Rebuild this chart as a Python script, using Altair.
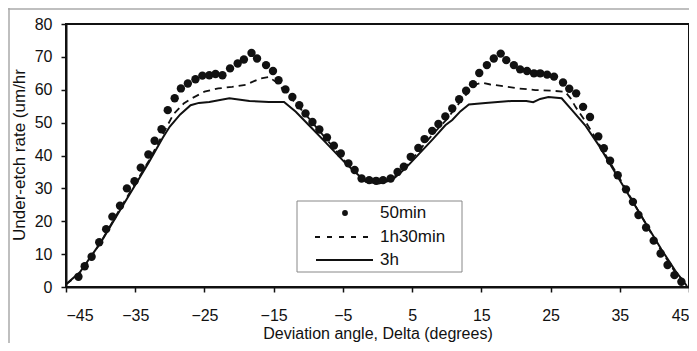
import altair as alt
import pandas as pd

# ---- data ----
x_50min = [-43.2, -42.3, -41.3, -40.2, -39.2, -38.3, -37.2, -36.2, -35.1, -34.2, -33.1, -32.2,
           -31.2, -30.3, -29.3, -28.4, -27.4, -26.3, -25.3, -24.3, -23.4, -22.4, -21.3, -20.2,
           -19.3, -18.2, -17.4, -16.1, -15.1, -14.3, -13.3, -12.3, -11.3, -10.4, -9.4, -8.4,
           -7.3, -6.3, -5.3, -4.2, -3.3, -2.3, -1.2, -0.2, 0.8, 1.9, 2.9, 3.8, 4.8, 5.9, 6.8,
           7.9, 8.8, 9.8, 10.8, 11.8, 12.8, 13.8, 14.7, 15.8, 16.8, 17.8, 18.6, 19.7, 20.6,
           21.6, 22.6, 23.5, 24.5, 25.5, 26.8, 27.7, 28.7, 29.7, 30.7, 31.9, 32.7, 33.6, 34.7,
           35.9, 36.9, 37.7, 38.8, 39.9, 40.9, 41.9, 42.9, 43.9]
y_50min = [3.1, 6.3, 9.2, 13.6, 17.6, 21.4, 24.7, 30.0, 32.2, 36.3, 40.3, 44.5,
           48.0, 53.8, 57.4, 60.4, 61.9, 63.2, 64.3, 64.4, 64.8, 64.4, 66.5, 68.0,
           69.2, 71.2, 69.5, 67.5, 65.7, 62.9, 60.1, 57.8, 55.3, 52.8, 50.2, 47.9,
           45.5, 43.0, 40.6, 37.6, 35.6, 33.0, 32.5, 32.3, 32.5, 33.0, 35.0, 36.6, 39.6, 42.3, 45.0,
           47.5, 49.6, 51.9, 54.3, 57.1, 59.7, 61.7, 65.1, 67.5, 69.5, 71.0, 69.0, 67.5, 66.2,
           65.7, 65.0, 65.0, 64.6, 64.0, 62.2, 60.3, 58.9, 54.8, 51.7, 45.8, 42.2, 38.4, 34.0,
           29.7, 25.9, 21.9, 18.1, 14.1, 10.2, 6.7, 3.6, 1.6]

x_1h30 = [-45, -43, -40, -37, -35, -33, -31, -29.5, -28, -27, -25, -23, -21, -19, -17, -15.7,
          -14.7, -13.5, -12, -10, -8, -6, -4, -2, 0, 2, 4, 6, 8, 10, 12, 13.2, 14.2, 15.1, 16.3,
          18.5, 20.4, 22.8, 25.2, 27.1, 27.9, 28.6, 30, 32, 35, 38, 41, 43, 44.8]
y_1h30 = [0.8, 4.0, 13.5, 24.5, 31.5, 38.5, 46.5, 52.5, 55.8, 57.2, 59.4, 60.4, 60.9, 61.5, 63.4, 63.9,
          62.4, 59.8, 56.3, 51.5, 46.5, 41.5, 36.5, 32.8, 31.8, 32.8, 36.2, 41.5, 46.5, 51.0, 56.5, 59.5,
          61.6, 62.2, 61.6, 61.0, 60.4, 59.9, 59.7, 59.4, 57.4, 54.8, 50.5, 43.5, 33.0, 22.0, 11.0, 4.5, 0.5]

x_3h = [-45, -43, -40, -37, -35, -33, -31, -30, -28.5, -27, -25.8, -24.3, -21.4, -18.5, -15.7, -13.5,
        -11.8, -9.9, -7.5, -4.6, -1.7, 0.2, 2.1, 4, 6, 8, 9.8, 10.8, 12, 13.2, 15.6, 19.4, 21.5,
        22.5, 23.5, 24.7, 26.6, 28.1, 30, 32, 35, 38, 41, 43, 44.7]
y_3h = [0.8, 4.5, 13.5, 24.0, 31.0, 38.0, 45.5, 48.8, 52.5, 55.3, 56.0, 56.3, 57.4, 56.6, 56.3, 56.3,
        53.3, 49.2, 44.0, 37.6, 32.0, 31.5, 32.5, 36.0, 40.5, 45.0, 49.2, 50.8, 53.5, 55.5, 56.0, 56.6, 56.6,
        56.2, 57.2, 57.8, 57.4, 53.8, 49.2, 43.0, 32.5, 22.0, 11.5, 5.0, 0.3]

x_ticks = [-45, -35, -25, -15, -5, 5, 15, 25, 35, 45]
y_ticks = [0, 10, 20, 30, 40, 50, 60, 70, 80]
legend_labels = ["50min", "1h30min", "3h"]

FONT = "Liberation Sans"
INK = "#111111"

df50 = pd.DataFrame({"x": x_50min, "y": y_50min})
df90 = pd.DataFrame({"x": x_1h30, "y": y_1h30})
df180 = pd.DataFrame({"x": x_3h, "y": y_3h})
one = pd.DataFrame({"k": [0]})

xs = alt.Scale(domain=[-45, 45], nice=False, zero=False)
ys = alt.Scale(domain=[0, 80], nice=False)

x_axis = alt.Axis(values=x_ticks, title="Deviation angle, Delta (degrees)", grid=False,
                  tickSize=5, labelPadding=15, titleX=311.5, titleY=46,
                  titleBaseline="middle", titleAlign="center", titleFontSize=16)
y_axis = alt.Axis(values=y_ticks, title="Under-etch rate (um/hr", grid=False,
                  tickSize=5, labelPadding=9, titleX=-47, titleY=130.5,
                  titleBaseline="middle", titleAlign="center")


def enc(ch):
    return ch.encode(x=alt.X("x:Q", scale=xs, axis=x_axis),
                     y=alt.Y("y:Q", scale=ys, axis=y_axis))


pts = enc(alt.Chart(df50).mark_point(filled=True, size=70, color=INK, opacity=1))
dash = enc(alt.Chart(df90).mark_line(color=INK, strokeWidth=1.8, strokeDash=[7, 5]))
solid = enc(alt.Chart(df180).mark_line(color=INK, strokeWidth=2))

# legend box (manual)
box = alt.Chart(one).mark_rect(fill="white", stroke="#888888", strokeWidth=1).encode(
    x=alt.value(231), x2=alt.value(396), y=alt.value(177), y2=alt.value(248))
leg_dot = alt.Chart(one).mark_point(filled=True, size=34, color=INK, opacity=1).encode(
    x=alt.value(279), y=alt.value(189))
leg_dash = alt.Chart(one).mark_rule(color=INK, strokeWidth=1.8, strokeDash=[5, 7]).encode(
    x=alt.value(249), x2=alt.value(307), y=alt.value(213))
leg_solid = alt.Chart(one).mark_rule(color=INK, strokeWidth=2).encode(
    x=alt.value(250), x2=alt.value(307), y=alt.value(236))
leg_y = [189, 213, 236]
leg_texts = [
    alt.Chart(pd.DataFrame({"label": [lab]})).mark_text(
        align="left", baseline="middle", font=FONT, fontSize=17, color=INK).encode(
        x=alt.value(314), y=alt.value(yy), text="label:N")
    for lab, yy in zip(legend_labels, leg_y)
]

# scanned figure border (top and left)
border_top = alt.Chart(one).mark_rule(color="#aaaaaa", strokeWidth=1.5).encode(
    x=alt.value(-58), x2=alt.value(640), y=alt.value(-15))
border_left = alt.Chart(one).mark_rule(color="#aaaaaa", strokeWidth=1.5).encode(
    x=alt.value(-57), y=alt.value(-16), y2=alt.value(340))

chart = alt.layer(border_top, border_left, solid, dash, pts, box, leg_dot, leg_dash, leg_solid,
                  *leg_texts).properties(
    width=623, height=263,
    padding={"left": 58, "top": 16, "right": 0, "bottom": 56},
    autosize=alt.AutoSizeParams(type="none"),
).configure_axis(
    labelFont=FONT, labelFontSize=16, labelColor=INK,
    titleFont=FONT, titleFontSize=17, titleColor=INK, titleFontWeight="normal",
    domainColor=INK, domainWidth=2, tickColor=INK, tickWidth=1.5,
).configure_view(stroke=INK, strokeWidth=2)

chart.save("out.html", embed_options={"renderer": "svg", "actions": False})
